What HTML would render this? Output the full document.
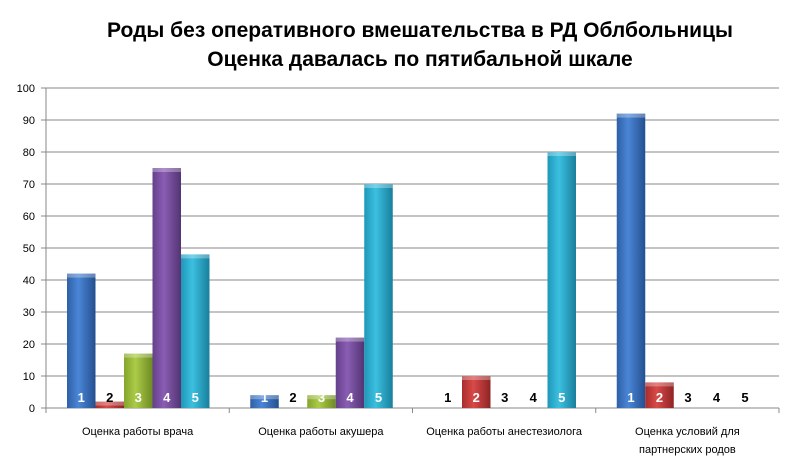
<!DOCTYPE html>
<html><head><meta charset="utf-8"><style>
body{margin:0;background:#fff;width:800px;height:469px;overflow:hidden;font-family:"Liberation Sans",sans-serif}
</style></head><body>
<svg width="800" height="469" xmlns="http://www.w3.org/2000/svg">
<defs>
<linearGradient id="g0" x1="0" x2="1"><stop offset="0" stop-color="#2f5fa6"/><stop offset=".4" stop-color="#4a86d6"/><stop offset="1" stop-color="#244f8f"/></linearGradient>
<linearGradient id="g1" x1="0" x2="1"><stop offset="0" stop-color="#a82c2c"/><stop offset=".4" stop-color="#d84a48"/><stop offset="1" stop-color="#8e2424"/></linearGradient>
<linearGradient id="g2" x1="0" x2="1"><stop offset="0" stop-color="#84a42c"/><stop offset=".4" stop-color="#abcb48"/><stop offset="1" stop-color="#6e8a22"/></linearGradient>
<linearGradient id="g3" x1="0" x2="1"><stop offset="0" stop-color="#64408a"/><stop offset=".4" stop-color="#8a5db4"/><stop offset="1" stop-color="#523472"/></linearGradient>
<linearGradient id="g4" x1="0" x2="1"><stop offset="0" stop-color="#1f97b8"/><stop offset=".4" stop-color="#3cc0e0"/><stop offset="1" stop-color="#187f9c"/></linearGradient>
</defs>
<text x="420" y="37" text-anchor="middle" font-size="21" font-weight="bold" fill="#000">Роды без оперативного вмешательства в РД Облбольницы</text>
<text x="420" y="66" text-anchor="middle" font-size="21" font-weight="bold" fill="#000">Оценка давалась по пятибальной шкале</text>
<g id="grid"></g><g id="bars"></g><g id="labels"></g>
</svg>
<script>
const categories=[["Оценка работы врача"],["Оценка работы акушера"],["Оценка работы анестезиолога"],["Оценка условий для","партнерских родов"]];
const series1=[42,4,0,92];
const series2=[2,0,10,8];
const series3=[17,4,0,0];
const series4=[75,22,0,0];
const series5=[48,70,80,0];
const seriesNames=["1","2","3","4","5"];
const yTicks=[0,10,20,30,40,50,60,70,80,90,100];
const series=[series1,series2,series3,series4,series5];
const NS="http://www.w3.org/2000/svg";
const X0=46,X1=779,Y0=408,Y1=88;
const cw=(X1-X0)/categories.length, bw=28.5, off=21;
const y=v=>Y0-(v/100)*(Y0-Y1);
function mk(t,a,p){const e=document.createElementNS(NS,t);for(const k in a)e.setAttribute(k,a[k]);p.appendChild(e);return e;}
const grid=document.getElementById('grid'),bars=document.getElementById('bars'),labels=document.getElementById('labels');
yTicks.forEach(t=>{
 const l=mk('line',{x1:X0-5,x2:X1,y1:y(t),y2:y(t),stroke:t?'#8a8a8a':'#888','stroke-width':1},grid);
 
 
 const tx=mk('text',{x:35,y:y(t)+4,'text-anchor':'end','font-size':11,fill:'#000'},grid);tx.textContent=t;
 
 
});
mk('line',{x1:X0,x2:X0,y1:Y1,y2:Y0,stroke:'#888'},grid);
for(let i=0;i<=categories.length;i++){mk('line',{x1:X0+i*cw,x2:X0+i*cw,y1:Y0,y2:Y0+5,stroke:'#888'},grid);}
categories.forEach((c,i)=>{
 c.forEach((line,j)=>{
  const t=mk('text',{x:X0+cw*(i+0.5),y:435+j*18,'text-anchor':'middle','font-size':11,fill:'#000'},labels);t.textContent=line;
  
  
 });
 series.forEach((s,k)=>{
  const v=s[i],bx=X0+i*cw+off+k*bw;
  if(v>0){
   const r=mk('rect',{x:bx,y:y(v),width:bw,height:Y0-y(v),fill:'url(#g'+k+')'},bars);
   
   
   mk('rect',{x:bx,y:y(v),width:bw,height:Math.min(4,Y0-y(v)),fill:'#fff','fill-opacity':.3},bars);
  }
  const t=mk('text',{x:bx+bw/2,y:402,'text-anchor':'middle','font-size':13,'font-weight':'bold',fill:v>=3?'#fff':'#000'},labels);
  t.textContent=seriesNames[k];
  
  
 });
});
</script>
</body></html>
